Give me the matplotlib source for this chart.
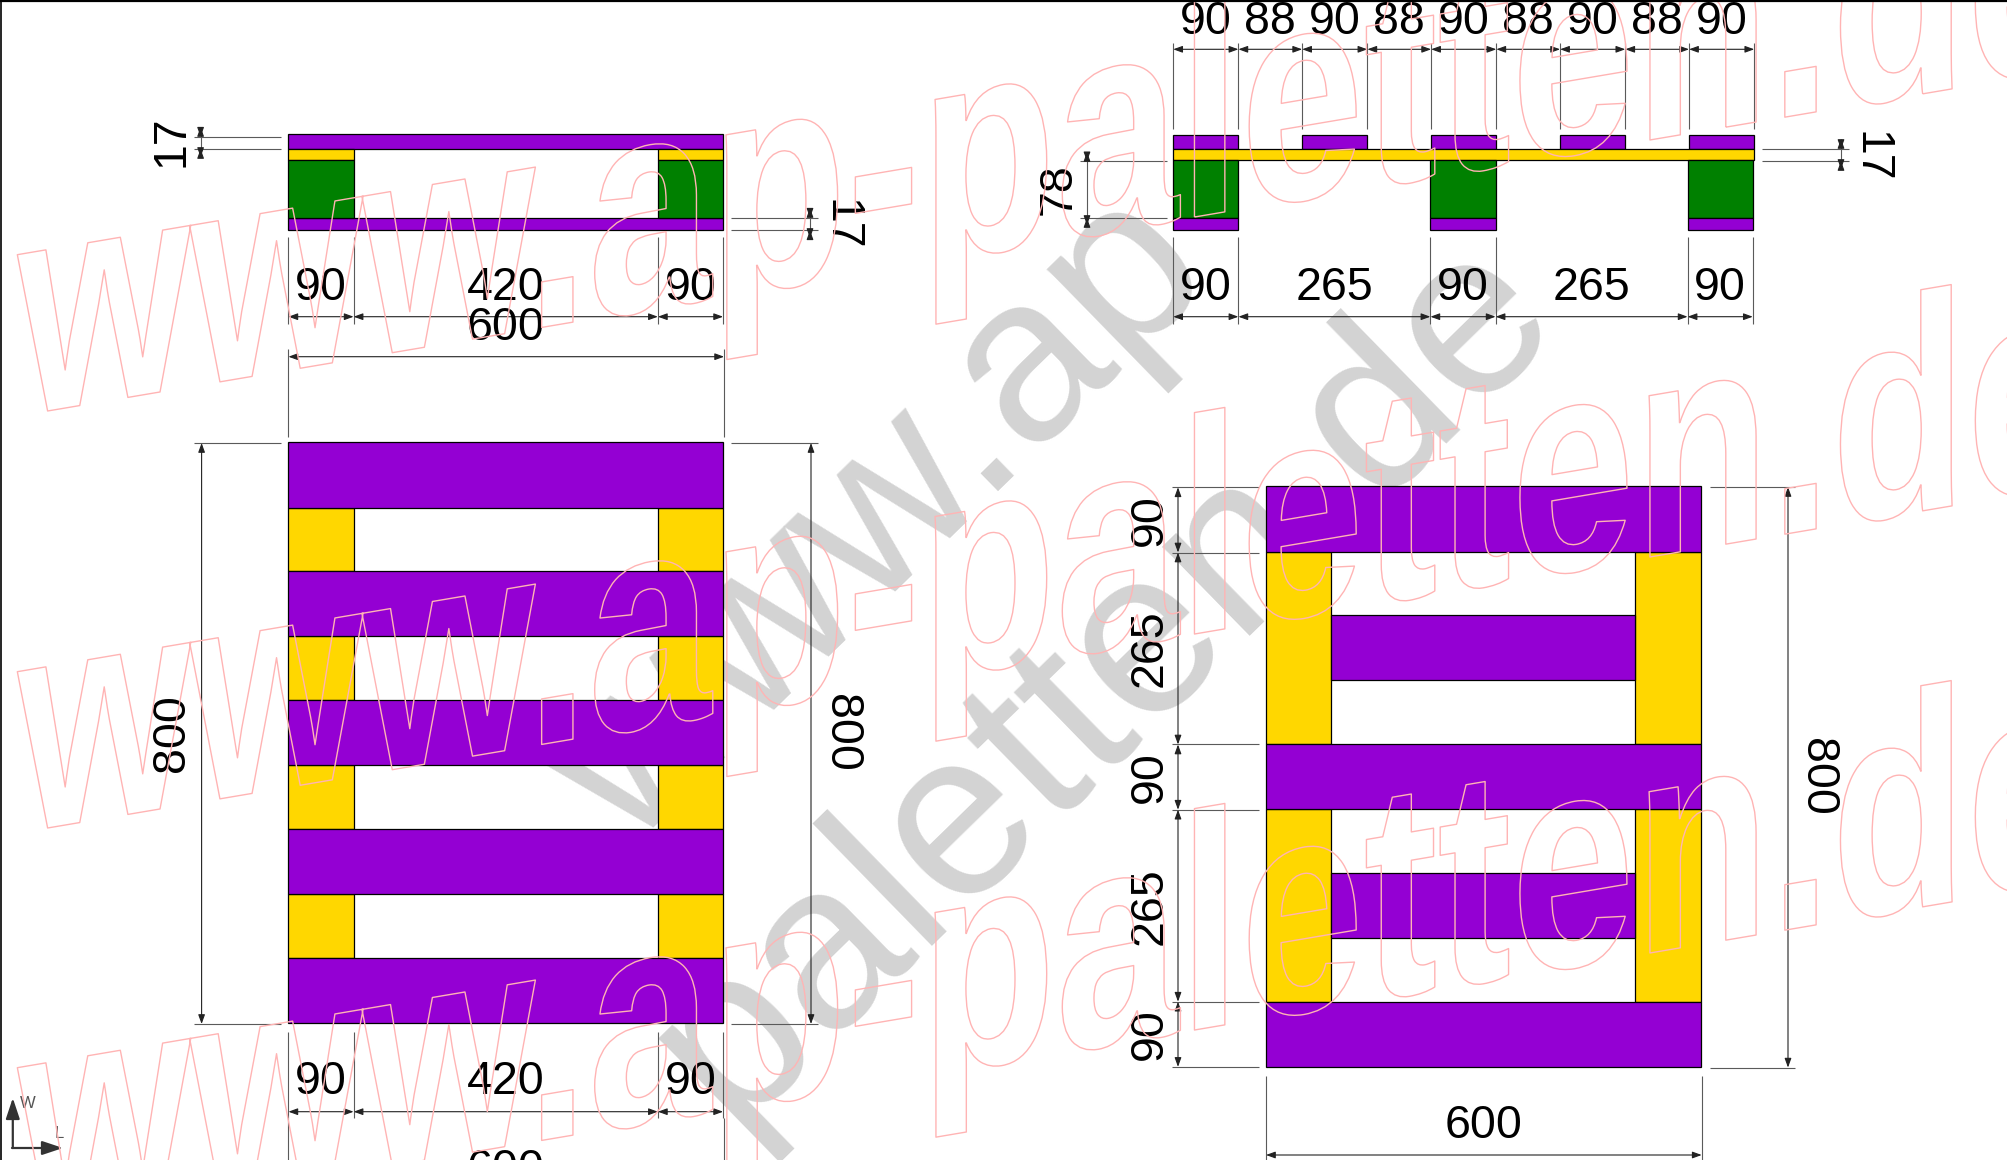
#!/usr/bin/env python3
# plot.py
# pallet drawing with four views and dimensions, pixel layout

import numpy as np
import matplotlib
matplotlib.use("Agg")
import matplotlib.pyplot as plt
import matplotlib.patheffects as pe
from matplotlib.patches import Rectangle
from matplotlib.transforms import Affine2D

# sizes in mm, as labelled on the drawing
TOP_LEFT_X = [90, 420, 90]
TOP_LEFT_TOTAL = 600
SIDE_LAYERS = [20, 16, 79, 17]
TOP_RIGHT_BOARDS = [90, 88, 90, 88, 90, 88, 90, 88, 90]
TOP_RIGHT_BLOCKS = [90, 265, 90, 265, 90]
PLAN_LEFT_Y = [90, 88, 90, 88, 90, 88, 90, 88, 90]
PLAN_RIGHT_Y = [90, 265, 90, 265, 90]
PLAN_TOTAL_Y = 800
THIN_LABEL = 17
BLOCK_LABEL = 78

WATERMARK = "www.ap-paletten.de"
BIG_LINE_1 = "www.ap"
BIG_LINE_2 = "paletten.de"

PURPLE = "#9400d3"
YELLOW = "#ffd700"
GREEN = "#008000"
PINK = "#ffb4b4"
GREY = "#d3d3d3"
LINE = "#5a5a5a"

S = 0.7245  # px per mm
FONT = "Liberation Sans"

plt.rcParams["font.family"] = [FONT, "DejaVu Sans"]

fig = plt.figure(figsize=(20.07, 11.60), dpi=100, facecolor="white")
ax = fig.add_axes([0, 0, 1, 1])
ax.set_xlim(0, 2007)
ax.set_ylim(1160, 0)
ax.axis("off")


class Sheared(pe.AbstractPathEffect):
    # outline text squeezed in x and sheared so that verticals stay vertical
    def __init__(self, x, y, sx, slope):
        super().__init__()
        self.x, self.y, self.sx, self.slope = x, y, sx, slope

    def draw_path(self, renderer, gc, tpath, affine, rgbFace=None):
        m = np.array([[self.sx, 0, 0], [self.slope * self.sx, 1, 0], [0, 0, 1]], dtype=float)
        t = affine + Affine2D().translate(-self.x, -self.y) + Affine2D(m) + Affine2D().translate(self.x, self.y)
        gc0 = renderer.new_gc()
        gc0.copy_properties(gc)
        gc0.set_foreground(PINK)
        gc0.set_linewidth(1.0)
        renderer.draw_path(gc0, tpath, t, None)
        gc0.restore()


def boxes(x, y, w, h, color, z=3):
    ax.add_patch(Rectangle((x, y), w, h, facecolor=color, edgecolor="black", lw=0.9, zorder=z))


def hline(x0, x1, y, lw=0.8):
    ax.plot([x0, x1], [y, y], color=LINE, lw=lw, zorder=4, solid_capstyle="butt")


def vline(x, y0, y1, lw=0.8):
    ax.plot([x, x], [y0, y1], color=LINE, lw=lw, zorder=4, solid_capstyle="butt")


def dim(p0, p1):
    ax.annotate("", xy=p1, xytext=p0, zorder=5,
                arrowprops=dict(arrowstyle="<|-|>,head_length=0.55,head_width=0.2", mutation_scale=10,
                                color="#222222", lw=0.8, shrinkA=0, shrinkB=0))


def label(x, y, s, rot=0):
    # the digits sit a bit low against the text box
    off = {0: (0, 3.5), 90: (3.5, 0), 270: (-4, 0)}[rot]
    ax.text(x + off[0], y + off[1], str(s), fontsize=33.5, rotation=rot, ha="center", va="center",
            color="black", zorder=6, family=[FONT])


def h_chain(x0, sizes, y_dim, y_ext0, y_ext1, y_text):
    edges = x0 + np.cumsum([0] + list(sizes)) * S
    for e in edges:
        vline(e, y_ext0, y_ext1)
    for a, b, v in zip(edges[:-1], edges[1:], sizes):
        dim((a, y_dim), (b, y_dim))
        label((a + b) / 2, y_text, v)
    return edges


# big grey watermark goes under the drawing
ax.text(881, 521, BIG_LINE_1, fontsize=169, rotation=44.3, rotation_mode="anchor", ha="center",
        va="center", color=GREY, zorder=1)
ax.text(1104, 679, BIG_LINE_2, fontsize=169, rotation=44.3, rotation_mode="anchor", ha="center",
        va="center", color=GREY, zorder=1)

# top left: side view
x0 = 288.4
y0 = 134.4
w_all = TOP_LEFT_TOTAL * S
ys = y0 + np.cumsum([0] + SIDE_LAYERS) * S
block = TOP_LEFT_X[0] * S
boxes(x0, ys[0], w_all, ys[1] - ys[0], PURPLE)
boxes(x0, ys[3], w_all, ys[4] - ys[3], PURPLE)
for bx in [x0, x0 + w_all - block]:
    boxes(bx, ys[1], block, ys[2] - ys[1], YELLOW)
    boxes(bx, ys[2], block, ys[3] - ys[2], GREEN)

h_chain(x0, TOP_LEFT_X, 316.7, 237, 324, 285)
vline(x0, 349, 437)
vline(x0 + w_all + 1, 349, 437)
dim((x0, 356.7), (x0 + w_all + 1, 356.7))
label(x0 + w_all / 2, 325, TOP_LEFT_TOTAL)

# the two 17 marks, arrows sit outside the ext lines
hline(194, 281, 136.7)
hline(194, 281, 149)
vline(200.6, 127, 157)
dim((200.6, 127), (200.6, 136.7))
dim((200.6, 157), (200.6, 149))
label(168, 141, THIN_LABEL, 90)
hline(731, 818, 217.7)
hline(731, 818, 230.3)
vline(810, 208, 238)
dim((810, 208), (810, 217.7))
dim((810, 238), (810, 230.3))
label(844, 225, THIN_LABEL, 270)

# top right: end view
x1 = 1173.2
edges = x1 + np.cumsum([0] + TOP_RIGHT_BOARDS) * S
for i in range(0, len(TOP_RIGHT_BOARDS), 2):
    boxes(edges[i], ys[0] + 0.5, TOP_RIGHT_BOARDS[i] * S, ys[1] - ys[0], PURPLE)
boxes(x1, ys[1], sum(TOP_RIGHT_BOARDS) * S, ys[2] - ys[1], YELLOW)
edges2 = x1 + np.cumsum([0] + TOP_RIGHT_BLOCKS) * S
for i in range(0, len(TOP_RIGHT_BLOCKS), 2):
    boxes(edges2[i], ys[2], TOP_RIGHT_BLOCKS[i] * S, ys[3] - ys[2], GREEN)
    boxes(edges2[i], ys[3], TOP_RIGHT_BLOCKS[i] * S, ys[4] - ys[3], PURPLE)

h_chain(x1, TOP_RIGHT_BOARDS, 49.3, 43, 129, 18)
h_chain(x1, TOP_RIGHT_BLOCKS, 316.7, 237, 324, 285)

hline(1080, 1167, 161.3)
hline(1080, 1167, 218)
vline(1087, 152, 225)
dim((1087, 152), (1087, 161.3))
dim((1087, 225), (1087, 218))
label(1055, 189, BLOCK_LABEL, 90)
hline(1762, 1849, 149)
hline(1762, 1849, 161)
vline(1841, 139, 169)
dim((1841, 139), (1841, 149))
dim((1841, 169), (1841, 161))
label(1875, 157, THIN_LABEL, 270)

# bottom left: plan
py = 442.3
y_edges = py + np.cumsum([0] + PLAN_LEFT_Y) * S
for i in range(1, len(PLAN_LEFT_Y), 2):
    for bx in [x0, x0 + w_all - block]:
        boxes(bx, y_edges[i], block, y_edges[i + 1] - y_edges[i], YELLOW)
for i in range(0, len(PLAN_LEFT_Y), 2):
    boxes(x0, y_edges[i], w_all, y_edges[i + 1] - y_edges[i], PURPLE)

for xa, xb, xd, xt, rot in [(194, 281, 201.6, 169, 90), (731, 818, 811, 845, 270)]:
    hline(xa, xb, 443)
    hline(xa, xb, 1024)
    dim((xd, 443), (xd, 1024))
    label(xt, 733, PLAN_TOTAL_Y, rot)
h_chain(x0, TOP_LEFT_X, 1111.7, 1032, 1118, 1078)
vline(x0, 1118, 1160)
vline(x0 + w_all + 1, 1118, 1160)
label(x0 + w_all / 2, 1167, TOP_LEFT_TOTAL)

# bottom right: plan
qx = 1266.0
qy = 486.3
q_edges = qy + np.cumsum([0] + PLAN_LEFT_Y) * S
for i, j in [(1, 4), (5, 8)]:
    for bx in [qx, qx + w_all - block]:
        boxes(bx, q_edges[i], block, q_edges[j] - q_edges[i], YELLOW)
for i in (2, 6):
    boxes(qx + block, q_edges[i], w_all - 2 * block, q_edges[i + 1] - q_edges[i], PURPLE)
for i in (0, 4, 8):
    boxes(qx, q_edges[i], w_all, q_edges[i + 1] - q_edges[i], PURPLE)

r_edges = qy + 1 + np.cumsum([0] + PLAN_RIGHT_Y) * S
for e in r_edges:
    hline(1172.4, 1259, e)
for a, b, v in zip(r_edges[:-1], r_edges[1:], PLAN_RIGHT_Y):
    dim((1178, a), (1178, b))
    label(1146, (a + b) / 2, v, 90)
hline(1710, 1795, 487)
hline(1710, 1795, 1067.6)
dim((1788, 487), (1788, 1067.6))
label(1821, 777, PLAN_TOTAL_Y, 270)
vline(qx, 1076, 1160)
vline(qx + w_all + 1, 1076, 1160)
dim((qx, 1155), (qx + w_all + 1, 1155))
label(qx + w_all / 2, 1122, TOP_LEFT_TOTAL)

# axis mark in the corner
ax.annotate("", xy=(12.8, 1098), xytext=(12.8, 1148), zorder=5,
            arrowprops=dict(arrowstyle="-|>,head_length=0.9,head_width=0.3", mutation_scale=14,
                            color="#333333", lw=1.6, shrinkA=0, shrinkB=0))
ax.annotate("", xy=(63, 1148), xytext=(12, 1148), zorder=5,
            arrowprops=dict(arrowstyle="-|>,head_length=0.9,head_width=0.3", mutation_scale=14,
                            color="#333333", lw=1.6, shrinkA=0, shrinkB=0))
ax.text(28, 1103, "W", fontsize=12, ha="center", va="center", color="#555555", zorder=6)
ax.text(59, 1133, "L", fontsize=12, ha="center", va="center", color="#555555", zorder=6)

# pink outlined watermark on top of everything
for baseline in [416, 833, 1229]:
    wx = 18
    dx, dy = ax.transData.transform((wx, baseline))
    t = ax.text(wx, baseline, WATERMARK, fontsize=220, weight="bold", ha="left", va="baseline",
                color="none", zorder=8, family=[FONT])
    t.set_path_effects([Sheared(dx, dy, 0.725, np.tan(np.radians(9.6)))])

# black frame on top and left edge
ax.plot([0, 2007], [0.5, 0.5], color="black", lw=1.6, zorder=9)
ax.plot([0.5, 0.5], [0, 1160], color="black", lw=1.2, zorder=9)

fig.savefig("out.png", dpi=100)
